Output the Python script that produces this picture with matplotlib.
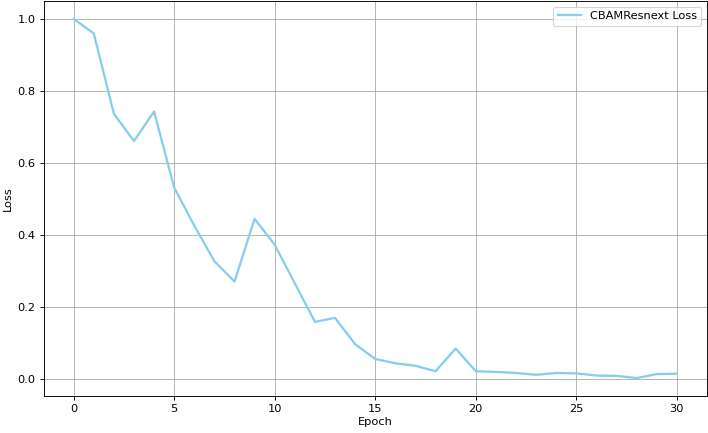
import numpy as np
import matplotlib
matplotlib.use('Agg')
import matplotlib.pyplot as plt

# loss per epoch
epochs = list(range(31))
loss = [1.000, 0.960, 0.737, 0.661, 0.743, 0.532, 0.426, 0.327, 0.271, 0.445,
        0.373, 0.266, 0.159, 0.170, 0.097, 0.056, 0.044, 0.037, 0.022, 0.085,
        0.022, 0.020, 0.017, 0.012, 0.017, 0.016, 0.010, 0.009, 0.003, 0.014,
        0.015]
label = 'CBAMResnext Loss'

# reference looks like a shrunk-down render, so draw at a lower dpi
dpi = 82
fig = plt.figure(figsize=(708 / dpi, 433 / dpi), dpi=dpi)
ax = fig.add_axes([43.5 / 708, 37 / 433, (707 - 43.5) / 708, (396 - 1) / 433])
ax.plot(epochs, loss, color='skyblue', linewidth=2, label=label)
ax.set_xlabel('Epoch', labelpad=3)
ax.set_ylabel('Loss')
ax.grid(True)
ax.legend(loc='upper right')
fig.savefig('out.png', dpi=dpi)
